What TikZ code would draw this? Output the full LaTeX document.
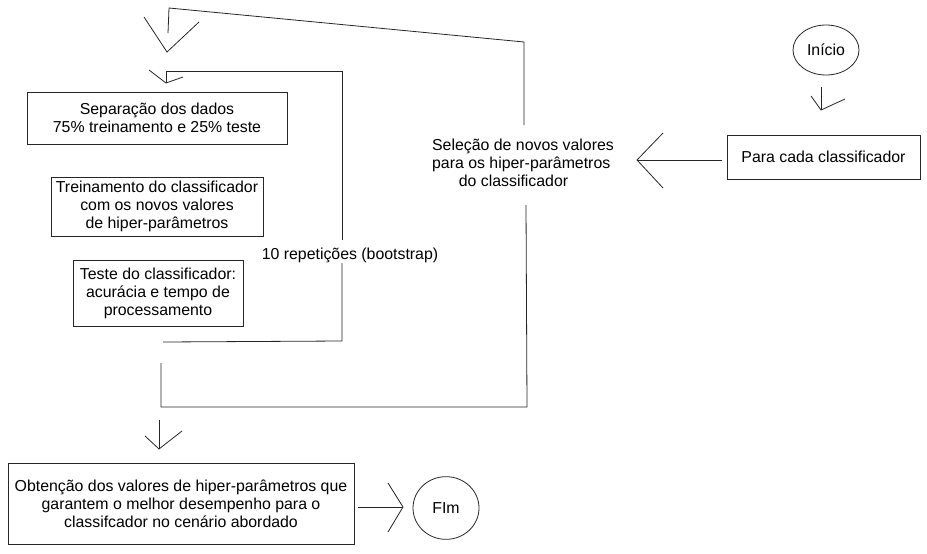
\documentclass[tikz,border=0pt]{standalone}
\usepackage{fontspec}
\setmainfont{Liberation Sans}
\usetikzlibrary{shapes.geometric}
\begin{document}
\begin{tikzpicture}[x=0.75pt,y=-0.75pt,
  ln/.style={line width=0.6pt, draw=black!85},
  txt/.style={align=center, inner sep=0pt, font=\fontsize{11.9}{13.5}\selectfont},
  box/.style={txt, draw=black!85, line width=0.6pt},
  ell/.style={txt, ellipse, draw=black!85, line width=0.6pt}]
\useasboundingbox (0,0) rectangle (927,553);
% nodes
\node[ell, minimum width=49.5pt, minimum height=37.5pt] (inicio) at (826,50) {Início};
\node[box, minimum width=144.75pt, minimum height=33pt] (para) at (823.5,157) {Para cada classificador};
\node[txt, align=left] (sel) at (523,163) {Seleção de novos valores\\para os hiper-parâmetros\\\hspace*{20pt}do classificador};
\node[box, minimum width=195pt, minimum height=39pt] (sep) at (157,118) {Separação dos dados\\75\% treinamento e 25\% teste};
\node[box, minimum width=159pt, minimum height=44.25pt] (trein) at (157,206.5) {Treinamento do classificador\\com os novos valores\\de hiper-parâmetros};
\node[box, minimum width=127.5pt, minimum height=49.5pt] (teste) at (158,293) {Teste do classificador:\\acurácia e tempo de\\processamento};
\node[txt] (rep) at (350,255) {10 repetições (bootstrap)};
\node[box, minimum width=259.5pt, minimum height=60.75pt] (obt) at (181,503.5) {Obtenção dos valores de hiper-parâmetros que\\garantem o melhor desempenho para o\\classifcador no cenário abordado};
\node[ell, minimum width=49.5pt, minimum height=47pt] (fim) at (446,508) {FIm};
% coordinates
\coordinate (i1) at (821,87);
\coordinate (i2) at (821,110);
\coordinate (p1) at (722,160);
\coordinate (p2) at (637,160);
\coordinate (o1) at (358,507);
\coordinate (o2) at (403,507);
% outer loop
\coordinate (A1) at (524,125);
\coordinate (A2) at (524,42);
\coordinate (A3) at (169,8);
\coordinate (A4) at (168,33);
\coordinate (B1) at (526,205);
\coordinate (B2) at (527,407);
\coordinate (B3) at (161,407);
\coordinate (B4) at (161,363);
% inner loop
\coordinate (C1) at (166,83);
\coordinate (C2) at (166,71);
\coordinate (C3) at (342,71);
\coordinate (C4) at (342,240);
\coordinate (D1) at (342,263);
\coordinate (D2) at (342,341);
\coordinate (D3) at (163,342);
% bottom arrow
\coordinate (E1) at (159,420);
\coordinate (E2) at (159,449);
% connectors
\draw[ln] (i1) -- (i2);
\draw[ln] (811,96) -- (i2) -- (845,99);
\draw[ln] (p1) -- (p2);
\draw[ln] (663,133) -- (p2) -- (663,188);
\draw[ln] (A1) -- (A2) -- (A3) -- (A4);
\draw[ln] (144,17) -- (167,52) -- (199,22);
\draw[ln] (B1) -- (B2) -- (B3) -- (B4);
\draw[ln] (C1) -- (C2) -- (C3) -- (C4);
\draw[ln] (149,70) -- (C1) -- (183,77);
\draw[ln] (D1) -- (D2) -- (D3);
\draw[ln] (E1) -- (E2);
\draw[ln] (145,436) -- (E2) -- (182,431);
\draw[ln] (o1) -- (o2);
\draw[ln] (388,483) -- (o2) -- (388,532);
\end{tikzpicture}
\end{document}
